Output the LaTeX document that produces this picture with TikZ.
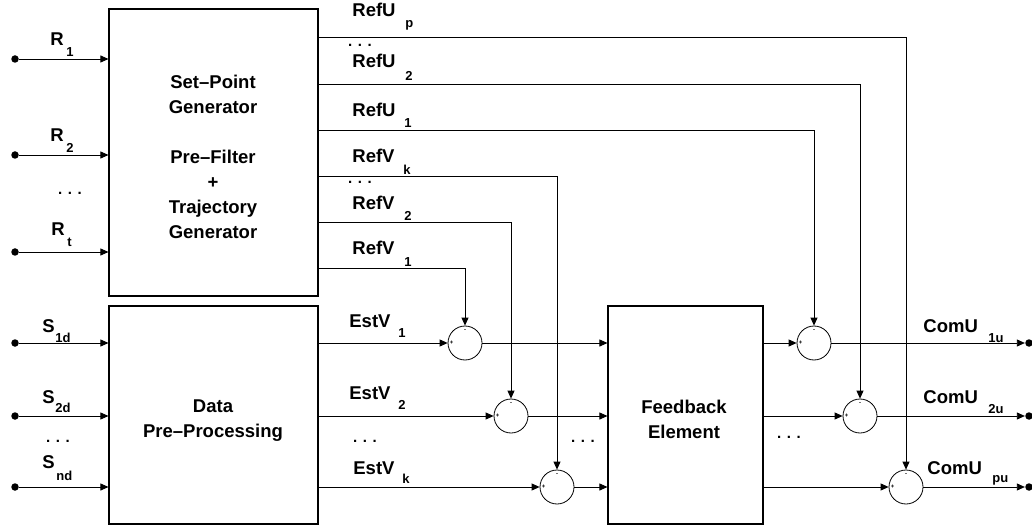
\documentclass[tikz,border=0pt]{standalone}
\usepackage{fontspec}
\setmainfont{Liberation Sans}
\usetikzlibrary{arrows.meta,calc}
\begin{document}
\begin{tikzpicture}[x=1pt,y=-1pt,
  line width=0.8pt,
  >={Triangle[length=8pt,width=7pt]},
  blk/.style={draw,line width=1.1pt,inner sep=0pt},
  txt/.style={font=\bfseries\fontsize{18.5}{25}\selectfont,align=center,inner sep=0pt},
  lab/.style={font=\bfseries\fontsize{18.5}{20}\selectfont,anchor=base west,inner sep=0pt},
  sub/.style={font=\bfseries\fontsize{13}{14}\selectfont,anchor=base west,inner sep=0pt},
  sumnode/.style={draw,circle,minimum size=34pt,inner sep=0pt,line width=0.8pt},
  term/.style={circle,fill,inner sep=0pt,minimum size=7.5pt},
  dotsn/.style={font=\bfseries\fontsize{15}{15}\selectfont,inner sep=0pt},
  sgn/.style={font=\bfseries\fontsize{6}{6}\selectfont,inner sep=0pt},
]
\useasboundingbox (0,0) rectangle (1032,526);

% blocks
\node[blk,minimum width=209pt,minimum height=287pt] (sp) at (213.5,152.5) {};
\node[blk,minimum width=209pt,minimum height=218pt] (dp) at (213.5,415) {};
\node[blk,minimum width=155pt,minimum height=218pt] (fb) at (685.5,415) {};
\node[txt] (sptxt) at (213,157) {Set--Point\\Generator\\[25pt]Pre--Filter\\+\\Trajectory\\Generator};
\node[txt] (dptxt) at (213,421) {Data\\Pre--Processing};
\node[txt] (fbtxt) at (684,419) {Feedback\\Element};

% summing junctions
\node[sumnode] (c1) at (465,343) {};
\node[sumnode] (c2) at (511,416) {};
\node[sumnode] (c3) at (557,487) {};
\node[sumnode] (c4) at (814,343) {};
\node[sumnode] (c5) at (860,416) {};
\node[sumnode] (c6) at (906,487) {};
\foreach \c in {c1,c2,c3,c4,c5,c6}{
  \node[sgn] (\c p) at ($(\c.west)+(4,0)$) {+};
  \node[sgn] (\c m) at ($(\c.north)+(0,5)$) {-};
}

% terminals
\node[term] (r1) at (15,59) {};
\node[term] (r2) at (15,155) {};
\node[term] (rt) at (15,252) {};
\node[term] (s1) at (15,343) {};
\node[term] (s2) at (15,416) {};
\node[term] (sn) at (15,487) {};
\node[term] (o1) at (1029,343) {};
\node[term] (o2) at (1029,416) {};
\node[term] (op) at (1029,487) {};

% rows of set-point generator outputs
\coordinate (yUp) at (0,37);
\coordinate (yU2) at (0,84);
\coordinate (yU1) at (0,130);
\coordinate (yVk) at (0,176);
\coordinate (yV2) at (0,222);
\coordinate (yV1) at (0,268);

% inputs
\foreach \t in {r1,r2,rt}{\draw[->] (\t) -- (\t -| sp.west);}
\foreach \t in {s1,s2,sn}{\draw[->] (\t) -- (\t -| dp.west);}

% reference signals
\draw[->] (sp.east |- yV1) -| (c1);
\draw[->] (sp.east |- yV2) -| (c2);
\draw[->] (sp.east |- yVk) -| (c3);
\draw[->] (sp.east |- yU1) -| (c4);
\draw[->] (sp.east |- yU2) -| (c5);
\draw[->] (sp.east |- yUp) -| (c6);

% estimated values
\draw[->] (dp.east |- c1) -- (c1);
\draw[->] (dp.east |- c2) -- (c2);
\draw[->] (dp.east |- c3) -- (c3);
\draw[->] (c1) -- (c1 -| fb.west);
\draw[->] (c2) -- (c2 -| fb.west);
\draw[->] (c3) -- (c3 -| fb.west);
\draw[->] (fb.east |- c4) -- (c4);
\draw[->] (fb.east |- c5) -- (c5);
\draw[->] (fb.east |- c6) -- (c6);
\draw[->] (c4) -- (o1);
\draw[->] (c5) -- (o2);
\draw[->] (c6) -- (op);

% labels
\node[lab] (lr1) at (50,46) {R}; \node[sub] (lr1s) at (66,57) {1};
\node[lab] (lr2) at (50,142) {R}; \node[sub] (lr2s) at (66,153) {2};
\node[lab] (lrt) at (51,236) {R}; \node[sub] (lrts) at (67,247) {t};
\node[dotsn] (dr) at (70,193) {. . .};
\node[lab] (ls1) at (42,332) {S}; \node[sub] (ls1s) at (55,342) {1d};
\node[lab] (ls2) at (42,403) {S}; \node[sub] (ls2s) at (55,412) {2d};
\node[lab] (lsn) at (42,468) {S}; \node[sub] (lsns) at (56,480) {nd};
\node[dotsn] (ds) at (58,441) {. . .};

\node[lab] (lup) at (352,17) {RefU}; \node[sub] (lups) at (405,28) {p};
\node[dotsn] (du) at (360,45) {. . .};
\node[lab] (lu2) at (352,68) {RefU}; \node[sub] (lu2s) at (405,81) {2};
\node[lab] (lu1) at (352,117) {RefU}; \node[sub] (lu1s) at (404,128) {1};
\node[lab] (lvk) at (352,163) {RefV}; \node[sub] (lvks) at (403,175) {k};
\node[dotsn] (dv) at (360,182) {. . .};
\node[lab] (lv2) at (352,210) {RefV}; \node[sub] (lv2s) at (404,221) {2};
\node[lab] (lv1) at (352,255) {RefV}; \node[sub] (lv1s) at (404,267) {1};

\node[lab] (le1) at (349,327) {EstV}; \node[sub] (le1s) at (398,337) {1};
\node[lab] (le2) at (349,399) {EstV}; \node[sub] (le2s) at (398,409) {2};
\node[dotsn] (de) at (365,441) {. . .};
\node[lab] (lek) at (353,474) {EstV}; \node[sub] (leks) at (402,483) {k};
\node[dotsn] (df) at (583,441) {. . .};
\node[dotsn] (dg) at (789,437) {. . .};
\node[lab] (lc1) at (923,332) {ComU}; \node[sub] (lc1s) at (988,342) {1u};
\node[lab] (lc2) at (923,403) {ComU}; \node[sub] (lc2s) at (988,413) {2u};
\node[lab] (lcp) at (927,474) {ComU}; \node[sub] (lcps) at (992,482) {pu};
\end{tikzpicture}
\end{document}
